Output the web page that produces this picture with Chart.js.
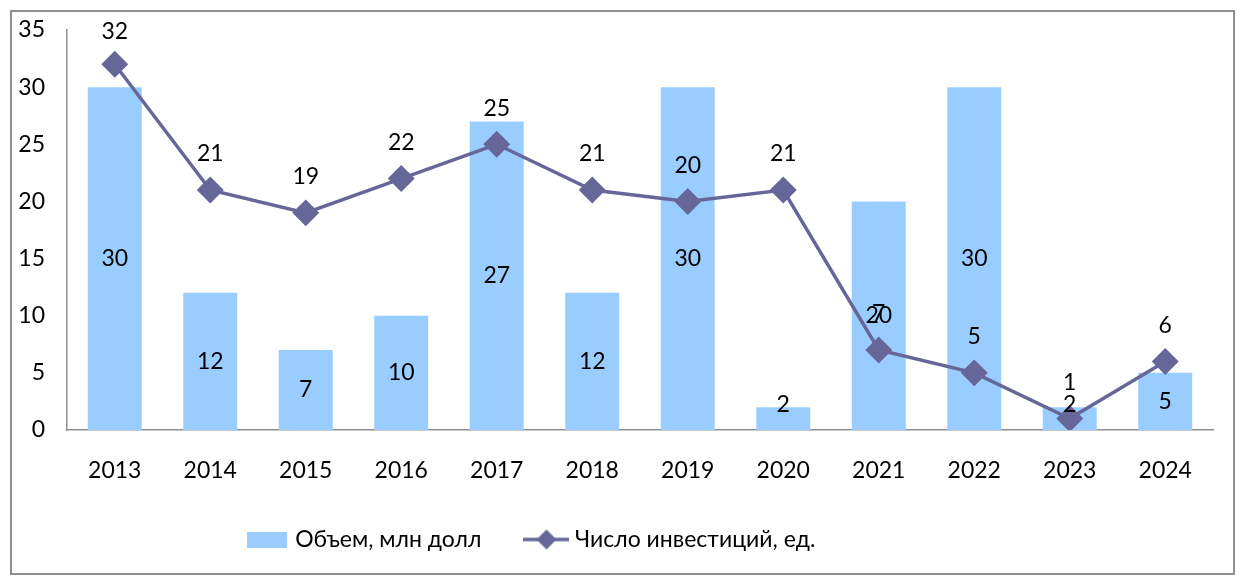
<!DOCTYPE html>
<html>
<head>
<meta charset="utf-8">
<script src="https://cdn.jsdelivr.net/npm/chart.js@4/dist/chart.umd.min.js"></script>
<style>
  html, body { margin: 0; padding: 0; background: #fff; }
  #frame {
    position: absolute; left: 10px; top: 10px;
    width: 1225px; height: 565px;
    box-sizing: border-box; border: 2px solid #8f8f8f;
  }
</style>
</head>
<body>
<div id="frame"><canvas id="chart"></canvas></div>
<script>
// Data
const years = ['2013', '2014', '2015', '2016', '2017', '2018', '2019', '2020', '2021', '2022', '2023', '2024'];
const volume = [30, 12, 7, 10, 27, 12, 30, 2, 20, 30, 2, 5];
const deals = [32, 21, 19, 22, 25, 21, 20, 21, 7, 5, 1, 6];
const yTicks = [0, 5, 10, 15, 20, 25, 30, 35];
const volumeLabel = 'Объем, млн долл';
const dealsLabel = 'Число инвестиций, ед.';

const BAR_COLOR = '#99ccff';
const LINE_COLOR = '#666699';
const AXIS_COLOR = '#8f8f8f';
const FONT = "Lato, 'Open Sans', sans-serif";
const LEGEND_DX = -80;

Chart.defaults.font.family = FONT;
Chart.defaults.font.size = 23;
Chart.defaults.color = '#000';

// Legend swatches drawn on small canvases
function swatch(w, h, draw) {
  const c = document.createElement('canvas');
  c.width = w; c.height = h;
  draw(c.getContext('2d'), w, h);
  return c;
}
const barSwatch = swatch(40, 16, (g, w, h) => {
  g.fillStyle = BAR_COLOR;
  g.fillRect(0, 0, w, h);
});
const lineSwatch = swatch(46, 22, (g, w, h) => {
  g.strokeStyle = LINE_COLOR;
  g.lineWidth = 3.5;
  g.beginPath(); g.moveTo(0, h / 2); g.lineTo(w, h / 2); g.stroke();
  g.fillStyle = LINE_COLOR;
  g.beginPath();
  g.moveTo(w / 2, h / 2 - 10); g.lineTo(w / 2 + 10, h / 2);
  g.lineTo(w / 2, h / 2 + 10); g.lineTo(w / 2 - 10, h / 2);
  g.closePath(); g.fill();
});

// Value labels: bars centred, line points above (kept inside the plot top)
const valueLabels = {
  id: 'valueLabels',
  afterDatasetsDraw(chart) {
    const ctx = chart.ctx;
    const top = chart.chartArea.top;
    ctx.save();
    ctx.font = '23px ' + FONT;
    ctx.fillStyle = '#000';
    ctx.textAlign = 'center';
    ctx.textBaseline = 'middle';
    chart.data.datasets.forEach((ds, i) => {
      const meta = chart.getDatasetMeta(i);
      meta.data.forEach((el, j) => {
        const y = meta.type === 'bar'
          ? Math.min((el.y + el.base) / 2, el.base - 25)
          : Math.max(el.y - 36, top + 2);
        ctx.fillText(String(ds.data[j]), el.x, y);
      });
    });
    ctx.restore();
  }
};

// Legend sits left of centre in the original
const legendShift = {
  id: 'legendShift',
  afterLayout(chart) {
    chart.legend.left += LEGEND_DX;
    chart.legend.right += LEGEND_DX;
  }
};

new Chart(document.getElementById('chart'), {
  data: {
    labels: years,
    datasets: [
      {
        type: 'line',
        label: dealsLabel,
        data: deals,
        borderColor: LINE_COLOR,
        backgroundColor: LINE_COLOR,
        borderWidth: 3.5,
        pointStyle: 'rectRot',
        pointRadius: 11,
        pointHoverRadius: 11,
        order: 0
      },
      {
        type: 'bar',
        label: volumeLabel,
        data: volume,
        backgroundColor: BAR_COLOR,
        barPercentage: 0.565,
        categoryPercentage: 1,
        order: 1
      }
    ]
  },
  options: {
    responsive: true,
    maintainAspectRatio: false,
    animation: false,
    layout: { padding: { top: 18, right: 20, bottom: 12, left: 0 } },
    plugins: {
      tooltip: { enabled: false },
      legend: {
        position: 'bottom',
        labels: {
          usePointStyle: true,
          pointStyleWidth: 34,
          padding: 48,
          generateLabels: () => [
            { text: volumeLabel, pointStyle: barSwatch, fontColor: '#000', lineWidth: 0, datasetIndex: 1 },
            { text: dealsLabel, pointStyle: lineSwatch, fontColor: '#000', lineWidth: 0, datasetIndex: 0 }
          ]
        }
      }
    },
    scales: {
      x: {
        grid: { display: false, drawTicks: false },
        border: { display: true, color: AXIS_COLOR, width: 1.5 },
        ticks: { padding: 27, maxRotation: 0 },
        afterFit: s => { s.height = 50; }
      },
      y: {
        min: 0,
        max: 35,
        grid: { display: false, drawTicks: false },
        border: { display: true, color: AXIS_COLOR, width: 1.5 },
        afterBuildTicks: s => { s.ticks = yTicks.map(v => ({ value: v })); },
        ticks: { padding: 22 },
        afterFit: s => {
          s.width = 55;
          s.paddingTop = 0;
          s.paddingBottom = 0;
        }
      }
    }
  },
  plugins: [valueLabels, legendShift]
});
</script>
</body>
</html>
